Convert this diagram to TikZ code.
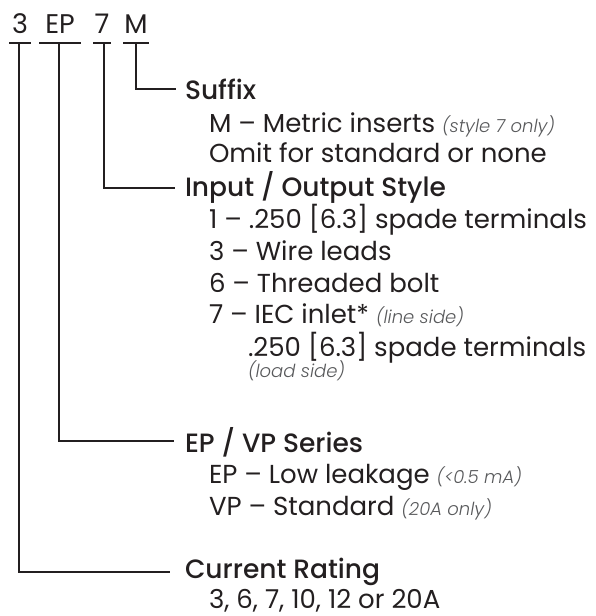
\documentclass[tikz,border=0pt]{standalone}
\usepackage{fontspec}
\setmainfont{Poppins}
\IfFontExistsTF{Poppins Medium}{\newfontfamily\headfont{Poppins Medium}}{\newfontfamily\headfont{Poppins}[FakeBold=1.2]}
\IfFontExistsTF{Poppins Light Italic}{\newfontfamily\notefont{Poppins Light Italic}}{\newfontfamily\notefont{Poppins}[UprightFont=*-Italic]}
\definecolor{ink}{HTML}{231F20}
\definecolor{notegray}{HTML}{58595B}
\newcommand\pnote[1]{{\notefont\fontsize{18}{21}\selectfont\color{notegray}#1}}
\begin{document}
\begin{tikzpicture}[x=1pt,y=-1pt,
  every node/.style={inner sep=0pt, outer sep=0pt, text=ink},
  code/.style={anchor=base, font=\fontsize{27}{30}\selectfont},
  head/.style={anchor=base west, font=\headfont\fontsize{26.5}{30}\selectfont},
  item/.style={anchor=base west, font=\fontsize{26}{30}\selectfont},
  wire/.style={draw=ink, line width=2.6pt, line join=miter}]
\useasboundingbox (0,0) rectangle (596,616);
% code letters
\node[code] (c3)  at (20,33)  {3};
\node[code] (cEP) at (60,33)  {EP};
\node[code] (c7)  at (102,33) {7};
\node[code] (cM)  at (136,33) {M};
% bars under code letters
\draw[wire] (9,43) -- (31,43);
\draw[wire] (39,43) -- (81,43);
\draw[wire] (93,43) -- (111,43);
\draw[wire] (123,43) -- (149,43);
\coordinate (b3)  at (19,43);
\coordinate (bEP) at (59,43);
\coordinate (b7)  at (104,43);
\coordinate (bM)  at (136,43);
% elbow ends
\coordinate (kM)  at (176,89);
\coordinate (k7)  at (175,188);
\coordinate (kEP) at (174,441);
\coordinate (k3)  at (170,572);
% headings
\node[head] (hSuf) at (185,99)  {Suffix};
\node[head] (hIO)  at (185,196) {Input / Output Style};
\node[head] (hEP)  at (185,452) {EP / VP Series};
\node[head] (hCR)  at (185,578) {Current Rating};
% items
\node[item] (s1) at (209,132) {M – Metric inserts \pnote{(style 7 only)}};
\node[item] (s2) at (209,162) {Omit for standard or none};
\node[item] (i1) at (209,228) {1 – .250 [6.3] spade terminals};
\node[item] (i3) at (209,260) {3 – Wire leads};
\node[item] (i6) at (209,292) {6 – Threaded bolt};
\node[item] (i7) at (209,323) {7 – IEC inlet* \pnote{(line side)}};
\node[item] (i7b) at (248,356) {.250 [6.3] spade terminals};
\node[anchor=base west] (i7c) at (248,377) {\pnote{(load side)}};
\node[item] (e1) at (209,483) {EP – Low leakage \pnote{(<0.5 mA)}};
\node[item] (e2) at (209,515) {VP – Standard \pnote{(20A only)}};
\node[item] (r1) at (209,608) {3, 6, 7, 10, 12 or 20A};
% connectors
\draw[wire] (bM) |- (kM);
\draw[wire] (b7) |- (k7);
\draw[wire] (bEP) |- (kEP);
\draw[wire] (b3) |- (k3);
\end{tikzpicture}
\end{document}
